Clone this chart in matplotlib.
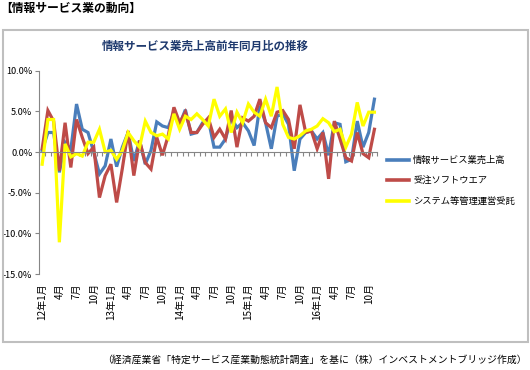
import matplotlib
matplotlib.use("Agg")
import matplotlib.pyplot as plt
from matplotlib.patches import Rectangle
from matplotlib.lines import Line2D
import matplotlib.transforms as mtransforms

plt.rcParams['font.family'] = ['Noto Sans CJK JP', 'DejaVu Sans']

# ---- data (monthly, 2012/01 - 2016/11, YoY %) ----
sales_total = [0.2, 2.4, 2.4, -2.5, 1.2, 0.3, 5.9, 2.8, 2.4, 0.0,
               -2.7, -1.7, 1.6, -1.8, 0.6, 2.4, -1.1, 1.4, -1.5, 0.2,
               3.7, 3.2, 3.0, 4.9, 3.4, 5.2, 2.2, 2.4, 3.6, 4.0,
               0.6, 0.6, 1.6, 4.2, 3.0, 3.6, 2.6, 0.8, 5.7, 3.6,
               0.4, 4.4, 4.7, 3.4, -2.3, 1.6, 2.4, 2.6, 1.6, 2.4,
               -0.4, 3.6, 3.4, -1.2, -0.9, 3.8, 0.6, 2.4, 6.5]
software = [0.4, 5.1, 3.8, -2.3, 3.6, -1.9, 4.0, 1.8, -0.2, 0.6,
            -5.6, -2.9, -1.5, -6.2, -2.0, 2.6, -2.9, 1.4, -1.3, -2.1,
            1.8, -0.4, 2.0, 5.5, 3.6, 4.9, 2.4, 2.4, 3.4, 4.2,
            1.8, 2.8, 1.6, 5.1, 0.6, 4.2, 3.8, 4.4, 6.5, 3.6,
            3.0, 4.9, 5.1, 4.0, 0.4, 5.8, 2.4, 2.6, 0.4, 2.4,
            -3.3, 3.8, 1.6, -0.7, -1.1, 2.4, -0.2, -0.7, 2.8]
system_mgmt = [-1.5, 4.0, 4.0, -11.1, 1.0, -0.6, -0.2, -0.5, 1.2, 1.2,
               2.8, 0.0, 0.2, -0.9, 0.2, 2.4, 1.4, 0.6, 3.8, 2.4,
               2.0, 2.2, 1.6, 4.7, 2.8, 4.4, 4.0, 4.7, 4.0, 3.2,
               6.5, 4.4, 5.3, 2.4, 4.9, 3.6, 5.9, 4.9, 4.4, 6.5,
               4.4, 8.0, 3.4, 1.8, 1.6, 2.0, 2.6, 2.8, 3.2, 4.1,
               3.6, 2.5, 2.8, 0.6, 2.2, 6.1, 3.2, 4.9, 4.9]
series_names = ['情報サービス業売上高', '受注ソフトウエア', 'システム等管理運営受託']
series_colors = ['#4A7EBB', '#BE4B48', '#FFFF00']
tick_labels = ['12年1月', '4月', '7月', '10月',
               '13年1月', '4月', '7月', '10月',
               '14年1月', '4月', '7月', '10月',
               '15年1月', '4月', '7月', '10月',
               '16年1月', '4月', '7月', '10月']
tick_step = 3
y_ticks = [10, 5, 0, -5, -10, -15]

W, H = 530, 370
fig = plt.figure(figsize=(W / 100, H / 100), dpi=100)

# outer chart border
fig.patches.append(Rectangle((3 / W, 1 - 342 / H), 525 / W, 312 / H,
                             transform=fig.transFigure, fill=False,
                             edgecolor='#BFBFBF', lw=1.5))

left, right, top, bottom = 39.3, 377.3, 70.7, 274
ax = fig.add_axes([left / W, 1 - bottom / H, (right - left) / W, (bottom - top) / H])

n = len(sales_total)
x = list(range(n))
for vals, name, col in zip([sales_total, software, system_mgmt], series_names, series_colors):
    ax.plot(x, vals, color=col, lw=2.3, label=name, solid_joinstyle='miter')

ax.set_xlim(-0.5, n - 0.5)
ax.set_ylim(-15, 10)

for s in ['top', 'right']:
    ax.spines[s].set_visible(False)
ax.spines['left'].set_color('#868686')
ax.spines['bottom'].set_color('#868686')
ax.spines['bottom'].set_position(('data', 0))

ax.set_yticks(y_ticks)
ax.set_yticklabels([f'{v:.1f}%' for v in y_ticks], fontsize=6.6)
ax.tick_params(axis='y', direction='out', length=3, color='#868686', pad=2)

# category tick marks at every boundary
ax.set_xticks([i - 0.5 for i in range(n + 1)])
ax.set_xticklabels([])
ax.tick_params(axis='x', direction='out', length=3, color='#868686')

trans = mtransforms.blended_transform_factory(ax.transData, ax.transAxes)
for k, lab in enumerate(tick_labels):
    ax.text(k * tick_step, -0.045, lab, transform=trans, rotation=90,
            ha='center', va='top', fontsize=7.2)

# titles
fig.text(0 / W, 1 - 8 / H, '【情報サービス業の動向】', fontsize=8.5,
         fontweight='bold', ha='left', va='center')
fig.text(205 / W, 1 - 46 / H, '情報サービス業売上高前年同月比の推移', fontsize=8.3,
         fontweight='bold', ha='center', va='center', color='#1F3A6E')

# legend
handles = [Line2D([], [], color=c, lw=2.6) for c in series_colors]
fig.legend(handles, series_names, loc='upper left',
           bbox_to_anchor=(383 / W, 1 - 152 / H), frameon=False,
           fontsize=6.7, handlelength=2.4, handletextpad=0.45, labelspacing=1.25,
           borderaxespad=0.0)

fig.text(527 / W, 1 - 360 / H,
         '（経済産業省「特定サービス産業動態統計調査」を基に（株）インベストメントブリッジ作成）',
         fontsize=7.1, ha='right', va='center')

fig.savefig('out.png', dpi=100)
